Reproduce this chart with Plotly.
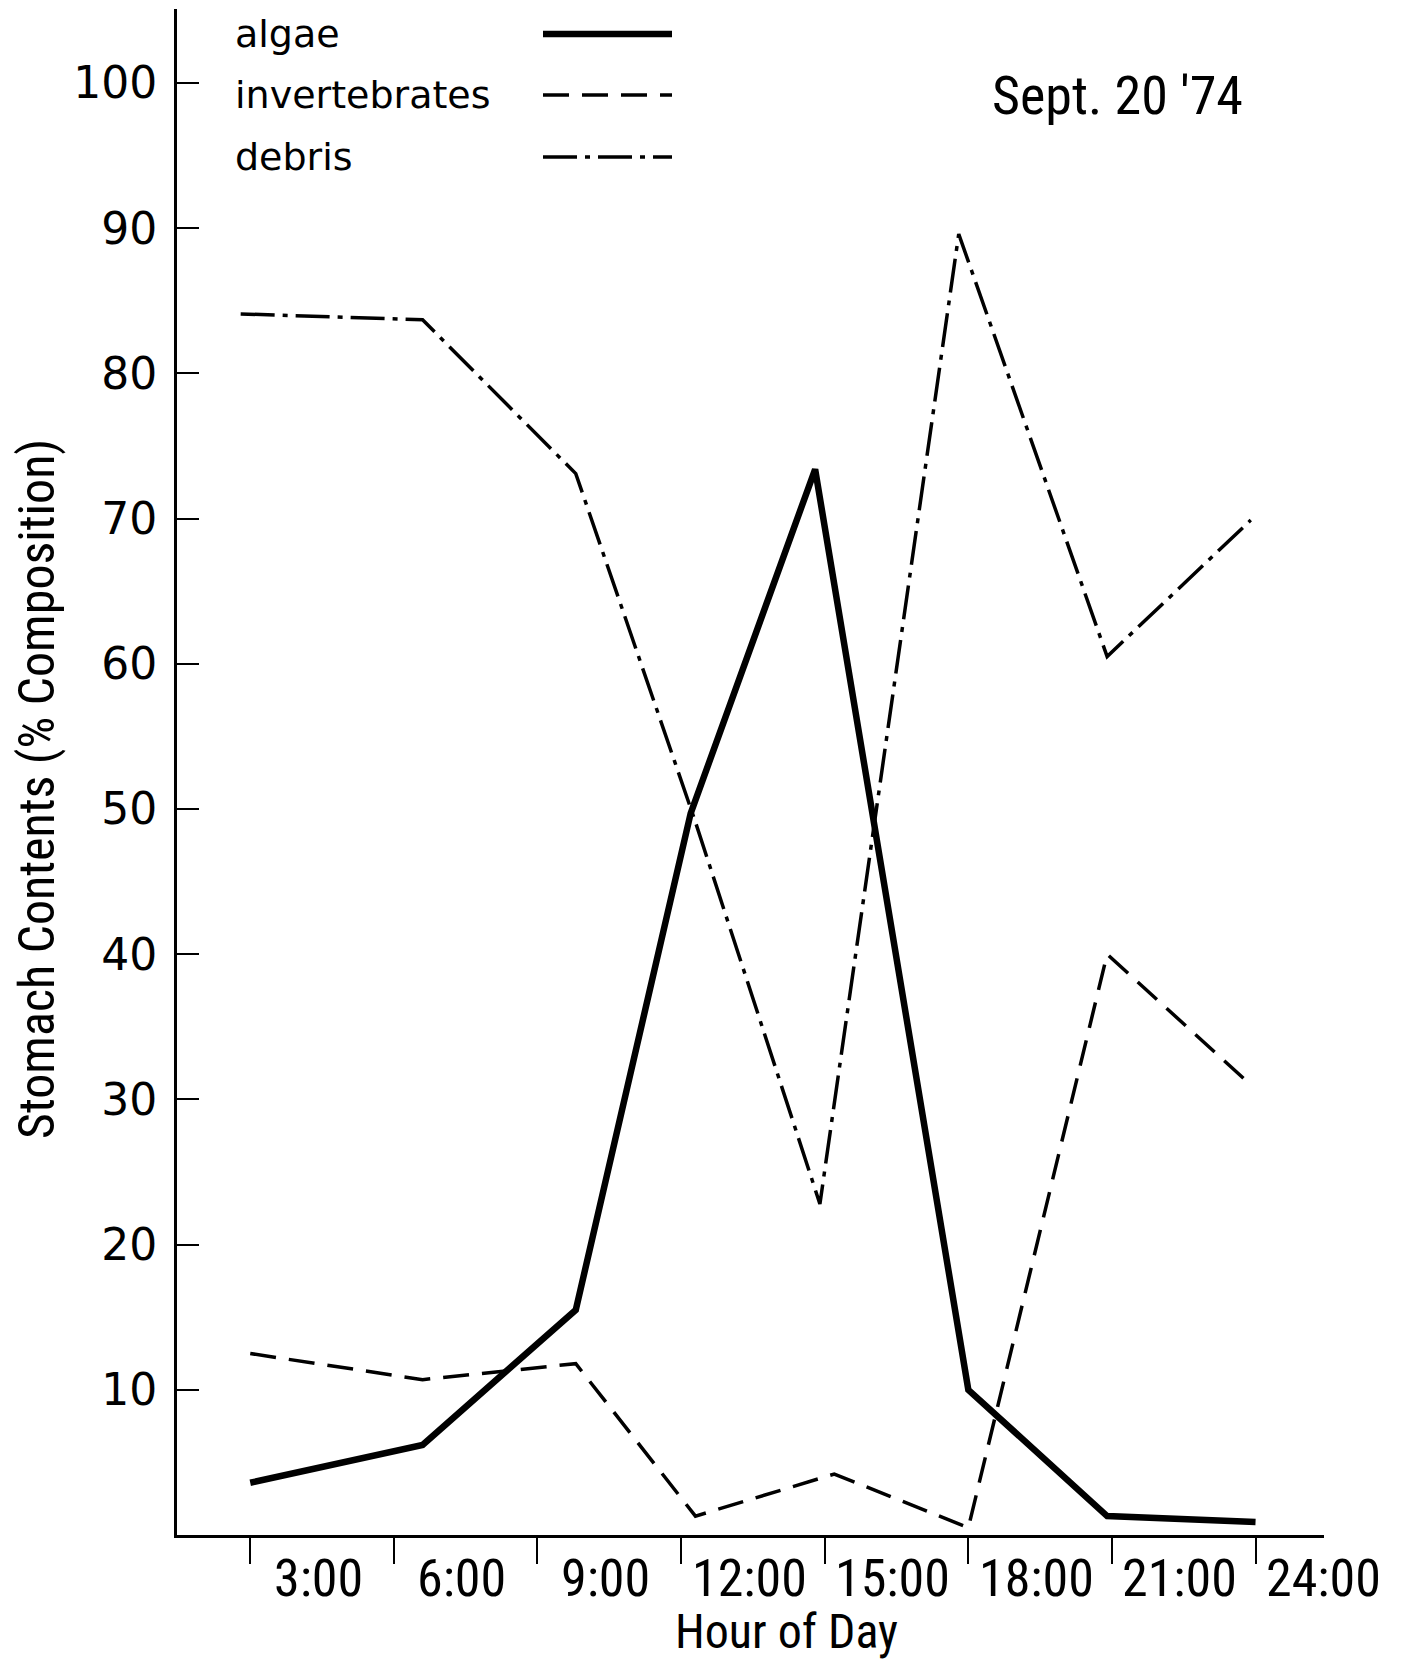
import plotly.graph_objects as go

# ---- data (hour of day, % composition) ----
algae_hours = [3.0, 6.6, 9.8, 12.2, 14.8, 18.0, 20.9, 24.0]
algae_pct = [3.6, 6.2, 15.5, 49.7, 73.4, 10.0, 1.3, 0.9]

invert_hours = [3.0, 6.6, 9.8, 12.3, 15.2, 18.0, 20.9, 23.9]
invert_pct = [12.5, 10.7, 11.8, 1.3, 4.2, 0.5, 40.0, 31.0]

debris_hours = [2.8, 6.6, 9.8, 12.3, 14.9, 17.8, 20.9, 23.9]
debris_pct = [84.1, 83.7, 73.1, 49.1, 22.8, 89.6, 60.5, 69.9]

tick_hours = [3, 6, 9, 12, 15, 18, 21, 24]
tick_labels = ["3:00", "6:00", "9:00", "12:00", "15:00", "18:00", "21:00", "24:00"]
y_ticks = [10, 20, 30, 40, 50, 60, 70, 80, 90, 100]

series_names = ["algae", "invertebrates", "debris"]
date_label = "Sept. 20 '74"

NARROW = "Liberation Sans Narrow, Roboto Condensed, Liberation Sans, Arial"
ROUND = "DejaVu Sans, Verdana, sans-serif"

styles = {
    "algae": dict(color="black", width=6.5, dash="solid"),
    "invertebrates": dict(color="black", width=3.5, dash="26px,13px"),
    "debris": dict(color="black", width=3.5, dash="34px,8px,5px,8px"),
}

fig = go.Figure()
fig.add_trace(go.Scatter(x=algae_hours, y=algae_pct, mode="lines",
                         line=styles["algae"], name="algae", showlegend=False))
fig.add_trace(go.Scatter(x=invert_hours, y=invert_pct, mode="lines",
                         line=styles["invertebrates"], name="invertebrates", showlegend=False))
fig.add_trace(go.Scatter(x=debris_hours, y=debris_pct, mode="lines",
                         line=styles["debris"], name="debris", showlegend=False))

# the page body adds an 8px margin; the figure is sized to fit the window
OFF = 8
W, H = 1417 - OFF, 1661 - OFF
PLOT_L, PLOT_R, PLOT_T, PLOT_B = 177, 1324, 9, 1535   # page pixel positions of the plot area
L, R, T, B = PLOT_L - OFF, W - (PLOT_R - OFF), PLOT_T - OFF, H - (PLOT_B - OFF)

def px_x(p):
    return (p - PLOT_L) / (PLOT_R - PLOT_L)

def px_y(p):
    return (PLOT_B - p) / (PLOT_B - PLOT_T)

annotations = []
shapes = []

# manual legend: text on the left, line sample on the right
leg_y = [34, 95, 157]
for name, yy in zip(series_names, leg_y):
    annotations.append(dict(text=name, xref="paper", yref="paper",
                            x=px_x(233), y=px_y(yy), xanchor="left", yanchor="middle",
                            showarrow=False, font=dict(family=ROUND, size=38, color="black")))
    st = styles[name]
    shapes.append(dict(type="line", xref="paper", yref="paper",
                       x0=px_x(543), x1=px_x(672), y0=px_y(yy), y1=px_y(yy),
                       line=dict(color="black", width=st["width"], dash=st["dash"])))

annotations.append(dict(text=date_label, xref="paper", yref="paper",
                        x=px_x(1117), y=px_y(95), xanchor="center", yanchor="middle",
                        showarrow=False, font=dict(family=NARROW, size=54, color="black")))

# x tick labels sit to the right of each tick mark
for h, lab in zip(tick_hours, tick_labels):
    annotations.append(dict(text=lab, xref="x", yref="paper", x=h + 1.42, y=px_y(1578),
                            xanchor="center", yanchor="middle", showarrow=False,
                            font=dict(family=NARROW, size=52, color="black")))

annotations.append(dict(text="Hour of Day", xref="paper", yref="paper",
                        x=px_x(786), y=px_y(1631), xanchor="center", yanchor="middle",
                        showarrow=False, font=dict(family=NARROW, size=48, color="black")))
annotations.append(dict(text="Stomach Contents (% Composition)", xref="paper", yref="paper",
                        x=px_x(37), y=px_y(789), xanchor="center", yanchor="middle",
                        textangle=-90, showarrow=False,
                        font=dict(family=NARROW, size=50, color="black")))

fig.update_layout(
    width=W, height=H,
    margin=dict(l=L, r=R, t=T, b=B),
    paper_bgcolor="white", plot_bgcolor="white",
    showlegend=False,
    annotations=annotations,
    shapes=shapes,
    xaxis=dict(range=[1.47, 25.43], tickvals=tick_hours, showticklabels=False,
               ticks="outside", ticklen=26, tickwidth=2, tickcolor="black",
               showline=True, linewidth=3, linecolor="black",
               showgrid=False, zeroline=False),
    yaxis=dict(range=[0, 105.1], tickvals=y_ticks, ticktext=[str(v) for v in y_ticks],
               ticks="inside", ticklen=22, tickwidth=2, tickcolor="black",
               showline=True, linewidth=3, linecolor="black",
               showgrid=False, zeroline=False, ticklabelstandoff=8,
               tickfont=dict(family=ROUND, size=44, color="black")),
)

fig.write_html("out.html")
